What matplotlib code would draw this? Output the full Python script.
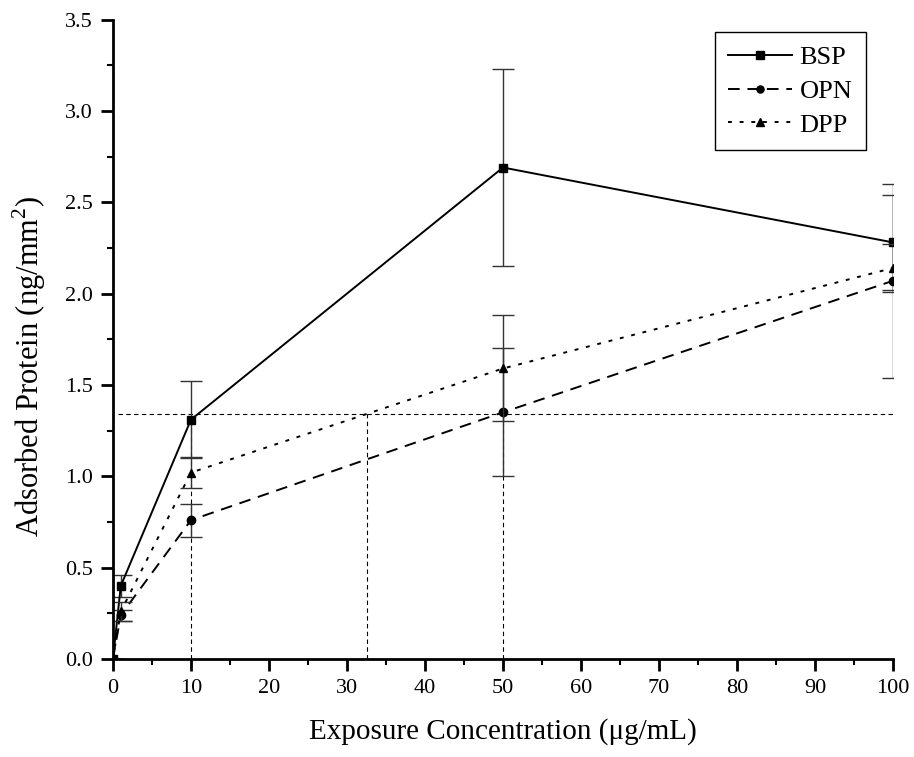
import numpy as np
from matplotlib import pyplot as plt
from matplotlib.ticker import MultipleLocator

plt.rcParams.update({
  "font.family": 'serif',
  "font.serif": ['Liberation Serif', 'DejaVu Serif'],
  "mathtext.fontset": 'custom',
  "mathtext.rm": 'Liberation Serif',
})

conc = [0, 1, 10, 50, 100]
bsp = [0.0, 0.40, 1.31, 2.69, 2.28]
bsp_err = [0.0, 0.06, 0.21, 0.54, 0.26]
opn = [0.0, 0.24, 0.76, 1.35, 2.07]
opn_err = [0.0, 0.03, 0.09, 0.35, 0.53]
dpp = [0.0, 0.26, 1.02, 1.59, 2.14]
dpp_err = [0.0, 0.05, 0.085, 0.29, 0.13]

# guide lines
guide_y = 1.34
guide_x = [10, 32.6, 50]
guide_top = [1.31, 1.34, 1.34]

fig = plt.figure(figsize=(9.14, 7.57), dpi=100)
ax = fig.add_axes([0.1236, 0.1295, 0.8534, 0.8447])

ax.plot([0.7, 100], [guide_y, guide_y], ls=(0, (4, 3)), lw=0.8, color='black')
for gx, gt in zip(guide_x, guide_top):
    ax.plot([gx, gx], [0, gt], ls=(0, (4, 3)), lw=0.8, color='black')

series = [
    (bsp, bsp_err, 'BSP', '-', 's'),
    (opn, opn_err, 'OPN', (0, (6, 4)), 'o'),
    (dpp, dpp_err, 'DPP', (0, (2, 4)), '^'),
]
handles = []
for vals, err, name, ls, mk in series:
    ax.errorbar(conc, vals, yerr=err, fmt='none', ecolor='#333333',
                elinewidth=1.0, capsize=8, capthick=1.0)
    ln, = ax.plot(conc, vals, color='black', ls=ls, lw=1.4, marker=mk, ms=6,
                  label=name)
    handles.append(ln)

ax.set_xlim(0, 100)
ax.set_ylim(0, 3.5)
ax.xaxis.set_major_locator(MultipleLocator(10))
ax.xaxis.set_minor_locator(MultipleLocator(5))
ax.yaxis.set_major_locator(MultipleLocator(0.5))
ax.yaxis.set_minor_locator(MultipleLocator(0.25))
ax.yaxis.set_major_formatter(plt.FormatStrFormatter('%.1f'))

for s in ['top', 'right']:
    ax.spines[s].set_visible(False)
for s in ['left', 'bottom']:
    ax.spines[s].set_linewidth(2)
ax.tick_params(which='major', direction='out', length=8.5, width=2, labelsize=16,
               pad=6)
ax.tick_params(which='minor', direction='out', length=4.5, width=1.5)

ax.set_xlabel('Exposure Concentration (μg/mL)', fontsize=21)
ax.set_ylabel(r'Adsorbed Protein (ng/mm$^{2}$)', fontsize=22)
ax.xaxis.set_label_coords(0.5, -0.093)
ax.yaxis.set_label_coords(-0.083, 0.458)

leg = ax.legend(handles=handles, loc='upper right', bbox_to_anchor=(0.965, 0.98),
                borderaxespad=0, fontsize=19, fancybox=False, edgecolor='black',
                framealpha=1, handlelength=2.4, handletextpad=0.3, borderpad=0.5,
                labelspacing=0.39, markerscale=0.85)
leg.get_frame().set_linewidth(1.0)

fig.savefig('out.png', dpi=100)
